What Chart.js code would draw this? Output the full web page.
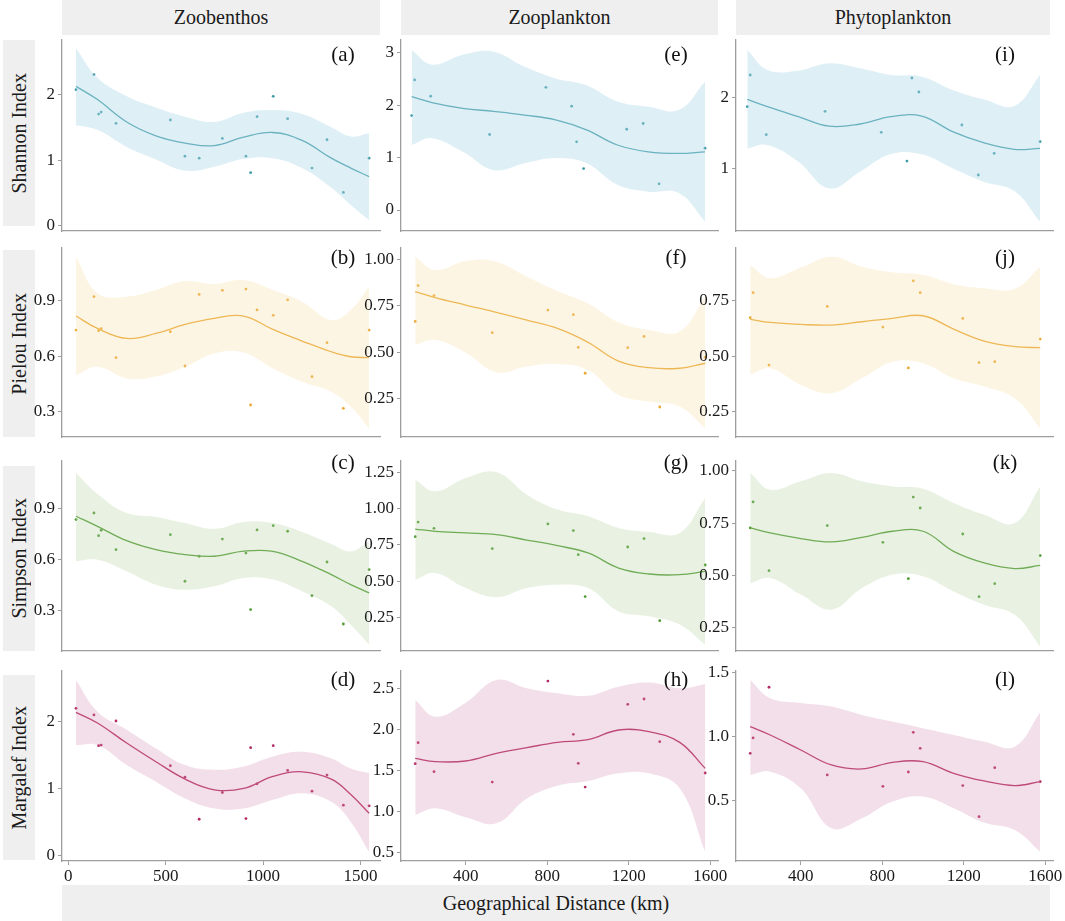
<!DOCTYPE html>
<html>
<head>
<meta charset="utf-8">
<title>Diversity indices vs geographical distance</title>
<script src="https://cdn.jsdelivr.net/npm/chart.js@4.4.1/dist/chart.umd.min.js"></script>
<style>
  body { margin: 0; background: #fff; }
  #fig { position: relative; width: 1065px; height: 921px; overflow: hidden;
         font-family: "Liberation Serif", "Times New Roman", serif; }
  .strip { position: absolute; background: #efefef; color: #1a1a1a; font-size: 20px;
           display: flex; align-items: center; justify-content: center; }
  .strip.side span { writing-mode: vertical-rl; transform: rotate(180deg); }
  canvas { position: absolute; }
</style>
</head>
<body>
<div id="fig">
  <div class="strip" style="left:62px;top:0;width:318px;height:35px">Zoobenthos</div>
  <div class="strip" style="left:401px;top:0;width:317px;height:35px">Zooplankton</div>
  <div class="strip" style="left:736px;top:0;width:314px;height:35px">Phytoplankton</div>
  <div class="strip side" style="left:3px;top:40px;width:32px;height:186px"><span>Shannon Index</span></div>
  <div class="strip side" style="left:3px;top:250px;width:32px;height:187px"><span>Pielou Index</span></div>
  <div class="strip side" style="left:3px;top:466px;width:32px;height:185px"><span>Simpson Index</span></div>
  <div class="strip side" style="left:3px;top:675px;width:32px;height:185px"><span>Margalef Index</span></div>
  <div class="strip" style="left:62px;top:885px;width:988px;height:36px">Geographical Distance (km)</div>
</div>
<script>
// site distances (km)
const zbSites = [40, 132, 156, 169, 245, 524, 599, 672, 791, 912, 936, 969, 1052, 1126, 1251, 1328, 1412, 1544];
const plSites = [152, 166, 244, 530, 803, 928, 952, 986, 1195, 1275, 1352, 1575];
// distances where the smooth fit and its band were read
const zbFitX = [40, 150, 300, 450, 600, 750, 900, 1050, 1200, 1350, 1450, 1544];
const plFitX = [152, 250, 400, 550, 700, 850, 1000, 1150, 1300, 1450, 1575];
const zbXTicks = [0, 500, 1000, 1500];
const plXTicks = [400, 800, 1200, 1600];

// (a) Zoobenthos - Shannon
const aPts = [2.07, 2.30, 1.70, 1.73, 1.56, 1.61, 1.06, 1.03, 1.33, 1.06, 0.81, 1.66, 1.97, 1.63, 0.88, 1.31, 0.51, 1.03];
const aFit = [2.12, 1.92, 1.58, 1.37, 1.26, 1.22, 1.35, 1.42, 1.30, 1.03, 0.88, 0.75];
const aHi  = [2.70, 2.25, 1.97, 1.80, 1.66, 1.58, 1.72, 1.76, 1.70, 1.50, 1.36, 1.41];
const aLo  = [1.53, 1.46, 1.20, 1.01, 0.84, 0.90, 1.02, 1.03, 0.88, 0.58, 0.32, 0.09];
const aTicks = [0, 1, 2];
// (b) Zoobenthos - Pielou
const bPts = [0.741, 0.922, 0.738, 0.749, 0.592, 0.732, 0.547, 0.934, 0.956, 0.963, 0.336, 0.850, 0.821, 0.905, 0.489, 0.673, 0.318, 0.741];
const bFit = [0.817, 0.75, 0.696, 0.723, 0.772, 0.805, 0.817, 0.745, 0.682, 0.624, 0.597, 0.592];
const bHi  = [1.138, 0.94, 0.922, 0.958, 1.006, 0.99, 1.012, 0.958, 0.895, 0.795, 0.85, 0.976];
const bLo  = [0.498, 0.543, 0.48, 0.49, 0.543, 0.615, 0.62, 0.534, 0.462, 0.408, 0.327, 0.21];
const bTicks = [0.3, 0.6, 0.9];
// (c) Zoobenthos - Simpson
const cPts = [0.837, 0.876, 0.742, 0.774, 0.659, 0.748, 0.472, 0.620, 0.722, 0.639, 0.304, 0.776, 0.801, 0.768, 0.387, 0.586, 0.219, 0.541];
const cFit = [0.857, 0.797, 0.712, 0.659, 0.630, 0.620, 0.650, 0.649, 0.590, 0.511, 0.452, 0.403];
const cHi  = [1.113, 0.989, 0.876, 0.853, 0.817, 0.782, 0.823, 0.817, 0.764, 0.693, 0.649, 0.709];
const cLo  = [0.590, 0.600, 0.531, 0.452, 0.422, 0.442, 0.491, 0.482, 0.413, 0.324, 0.215, 0.097];
const cTicks = [0.3, 0.6, 0.9];
// (d) Zoobenthos - Margalef
const dPts = [2.20, 2.10, 1.64, 1.65, 2.01, 1.34, 1.17, 0.54, 0.94, 0.55, 1.61, 1.07, 1.64, 1.27, 0.96, 1.20, 0.75, 0.74];
const dFit = [2.14, 1.98, 1.68, 1.40, 1.14, 0.98, 1.00, 1.18, 1.25, 1.14, 0.91, 0.63];
const dHi  = [2.62, 2.15, 1.88, 1.60, 1.35, 1.28, 1.33, 1.48, 1.55, 1.45, 1.30, 1.23];
const dLo  = [1.65, 1.65, 1.35, 1.10, 0.85, 0.70, 0.70, 0.83, 0.93, 0.80, 0.50, 0.05];
const dTicks = [0, 1, 2];
// (e) Zooplankton - Shannon
const ePts = [1.80, 2.48, 2.17, 1.44, 2.34, 1.98, 1.30, 0.79, 1.54, 1.65, 0.50, 1.18];
const eFit = [2.16, 2.05, 1.94, 1.88, 1.81, 1.72, 1.53, 1.24, 1.11, 1.08, 1.11];
const eHi  = [3.05, 2.77, 2.96, 3.02, 2.73, 2.51, 2.38, 2.07, 1.97, 1.91, 2.45];
const eLo  = [1.24, 1.37, 1.11, 0.76, 0.89, 0.99, 0.89, 0.48, 0.35, 0.32, -0.22];
const eTicks = [0, 1, 2, 3];
// (f) Zooplankton - Pielou
const fPts = [0.667, 0.860, 0.806, 0.606, 0.728, 0.703, 0.527, 0.387, 0.525, 0.586, 0.205, 0.473];
const fFit = [0.827, 0.795, 0.755, 0.716, 0.674, 0.629, 0.554, 0.453, 0.417, 0.414, 0.441];
const fHi  = [1.016, 0.944, 0.993, 0.989, 0.908, 0.831, 0.764, 0.662, 0.62, 0.612, 0.80];
const fLo  = [0.54, 0.567, 0.498, 0.392, 0.423, 0.437, 0.405, 0.27, 0.234, 0.207, 0.09];
const fTicks = [0.25, 0.5, 0.75, 1];
// (g) Zooplankton - Simpson
const gPts = [0.806, 0.907, 0.864, 0.724, 0.894, 0.848, 0.682, 0.393, 0.735, 0.793, 0.227, 0.611];
const gFit = [0.859, 0.843, 0.832, 0.820, 0.783, 0.744, 0.694, 0.590, 0.549, 0.544, 0.567];
const gHi  = [1.199, 1.119, 1.211, 1.252, 1.096, 0.993, 0.947, 0.866, 0.839, 0.832, 1.073];
const gLo  = [0.51, 0.556, 0.452, 0.388, 0.452, 0.475, 0.452, 0.291, 0.257, 0.2, 0.061];
const gTicks = [0.25, 0.5, 0.75, 1, 1.25];
// (h) Zooplankton - Margalef
const hPts = [1.583, 1.839, 1.486, 1.360, 2.589, 1.940, 1.587, 1.299, 2.305, 2.370, 1.851, 1.470];
const hFit = [1.648, 1.608, 1.616, 1.709, 1.778, 1.843, 1.875, 1.993, 1.973, 1.843, 1.526];
const hHi  = [2.358, 2.155, 2.326, 2.60, 2.50, 2.44, 2.41, 2.52, 2.57, 2.50, 2.55];
const hLo  = [0.958, 1.04, 0.93, 0.857, 1.16, 1.315, 1.372, 1.466, 1.466, 1.283, 0.512];
const hTicks = [0.5, 1, 1.5, 2, 2.5];
// (i) Phytoplankton - Shannon
const iPts = [1.869, 2.313, 1.477, 1.804, 1.509, 1.107, 2.271, 2.075, 1.612, 0.911, 1.215, 1.379];
const iFit = [1.972, 1.869, 1.729, 1.595, 1.626, 1.729, 1.738, 1.519, 1.364, 1.271, 1.285];
const iHi  = [2.664, 2.383, 2.374, 2.477, 2.407, 2.313, 2.29, 2.103, 1.972, 1.879, 2.313];
const iLo  = [1.285, 1.332, 1.098, 0.724, 0.958, 1.206, 1.201, 1.005, 0.818, 0.687, 0.257];
const iTicks = [1, 2];
// (j) Phytoplankton - Pielou
const jPts = [0.673, 0.786, 0.460, 0.724, 0.631, 0.447, 0.839, 0.786, 0.670, 0.471, 0.475, 0.577];
const jFit = [0.666, 0.652, 0.643, 0.64, 0.655, 0.670, 0.682, 0.622, 0.568, 0.543, 0.538];
const jHi  = [0.911, 0.851, 0.899, 0.948, 0.903, 0.878, 0.866, 0.824, 0.806, 0.803, 0.903];
const jLo  = [0.415, 0.445, 0.37, 0.333, 0.4, 0.475, 0.468, 0.4, 0.363, 0.31, 0.175];
const jTicks = [0.25, 0.5, 0.75];
// (k) Phytoplankton - Simpson
const kPts = [0.727, 0.851, 0.523, 0.738, 0.658, 0.485, 0.874, 0.822, 0.698, 0.399, 0.461, 0.595];
const kFit = [0.727, 0.703, 0.676, 0.660, 0.682, 0.711, 0.711, 0.615, 0.560, 0.533, 0.548];
const kHi  = [0.989, 0.909, 0.949, 0.989, 0.949, 0.925, 0.914, 0.846, 0.79, 0.75, 0.925];
const kLo  = [0.464, 0.488, 0.409, 0.337, 0.44, 0.504, 0.496, 0.424, 0.361, 0.313, 0.162];
const kTicks = [0.25, 0.5, 0.75, 1];
// (l) Phytoplankton - Margalef
const lPts = [0.867, 0.987, 1.383, 0.698, 0.609, 0.721, 1.031, 0.906, 0.615, 0.372, 0.755, 0.646];
const lFit = [1.076, 1.010, 0.893, 0.776, 0.745, 0.797, 0.802, 0.711, 0.651, 0.615, 0.646];
const lHi  = [1.44, 1.297, 1.26, 1.232, 1.167, 1.115, 1.063, 1.01, 0.958, 0.919, 1.188];
const lLo  = [0.698, 0.724, 0.594, 0.281, 0.359, 0.49, 0.529, 0.438, 0.326, 0.268, 0.099];
const lTicks = [0.5, 1, 1.5];

// colours per index (row)
const palette = [
  { line: '#3f9aa6', band: 'rgba(173, 216, 230, 0.40)' },  // Shannon
  { line: '#e9a733', band: 'rgba(250, 222, 165, 0.30)' },  // Pielou
  { line: '#4f9a32', band: 'rgba(185, 212, 165, 0.32)' },  // Simpson
  { line: '#b42a62', band: 'rgba(215, 150, 182, 0.30)' }   // Margalef
];

// plot areas in page pixels
const cols = [
  { left: 62,  right: 380,  xMin: -32, xMax: 1600, sites: zbSites, fitX: zbFitX, xTicks: zbXTicks, tagDx: 37 },
  { left: 401, right: 718,  xMin: 82,  xMax: 1638, sites: plSites, fitX: plFitX, xTicks: plXTicks, tagDx: 42 },
  { left: 736, right: 1053, xMin: 82,  xMax: 1638, sites: plSites, fitX: plFitX, xTicks: plXTicks, tagDx: 48 }
];
const rows = [
  { top: 40,  bottom: 231, tagDy: 15 },
  { top: 248, bottom: 437, tagDy: 10 },
  { top: 461, bottom: 651, tagDy: 2 },
  { top: 671, bottom: 861, tagDy: 9 }
];

const panels = [
  { tag: '(a)', col: 0, row: 0, pts: aPts, fit: aFit, hi: aHi, lo: aLo, ticks: aTicks, dec: 0, yMin: -0.076, yMax: 2.825 },
  { tag: '(b)', col: 0, row: 1, pts: bPts, fit: bFit, hi: bHi, lo: bLo, ticks: bTicks, dec: 1, yMin: 0.163, yMax: 1.185 },
  { tag: '(c)', col: 0, row: 2, pts: cPts, fit: cFit, hi: cHi, lo: cLo, ticks: cTicks, dec: 1, yMin: 0.059, yMax: 1.184 },
  { tag: '(d)', col: 0, row: 3, pts: dPts, fit: dFit, hi: dHi, lo: dLo, ticks: dTicks, dec: 0, yMin: -0.085, yMax: 2.758 },
  { tag: '(e)', col: 1, row: 0, pts: ePts, fit: eFit, hi: eHi, lo: eLo, ticks: eTicks, dec: 0, yMin: -0.40, yMax: 3.242, xMin: 100 },
  { tag: '(f)', col: 1, row: 1, pts: fPts, fit: fFit, hi: fHi, lo: fLo, ticks: fTicks, dec: 2, yMin: 0.043, yMax: 1.063 },
  { tag: '(g)', col: 1, row: 2, pts: gPts, fit: gFit, hi: gHi, lo: gLo, ticks: gTicks, dec: 2, yMin: 0.018, yMax: 1.328 },
  { tag: '(h)', col: 1, row: 3, pts: hPts, fit: hFit, hi: hHi, lo: hLo, ticks: hTicks, dec: 1, yMin: 0.399, yMax: 2.711 },
  { tag: '(i)', col: 2, row: 0, pts: iPts, fit: iFit, hi: iHi, lo: iLo, ticks: iTicks, dec: 0, yMin: 0.126, yMax: 2.804, xMin: 97 },
  { tag: '(j)', col: 2, row: 1, pts: jPts, fit: jFit, hi: jHi, lo: jLo, ticks: jTicks, dec: 2, yMin: 0.136, yMax: 0.987 },
  { tag: '(k)', col: 2, row: 2, pts: kPts, fit: kFit, hi: kHi, lo: kLo, ticks: kTicks, dec: 2, yMin: 0.14, yMax: 1.046 },
  { tag: '(l)', col: 2, row: 3, pts: lPts, fit: lFit, hi: lHi, lo: lLo, ticks: lTicks, dec: 1, yMin: 0.026, yMax: 1.51 }
];

const FONT = '"Liberation Serif", "Times New Roman", serif';
const AXIS = '#9e9e9e';
const Y_AXIS_W = 40, PAD_T = 14, PAD_B = 14, PAD_R = 24;

const xy = (xs, ys) => xs.map((x, i) => ({ x: x, y: ys[i] }));

// panel letter in the top right corner
const panelTag = {
  id: 'panelTag',
  afterDraw(chart, args, opts) {
    const { ctx, chartArea } = chart;
    ctx.save();
    ctx.font = '21px ' + FONT;
    ctx.fillStyle = '#111';
    ctx.textAlign = 'center';
    ctx.textBaseline = 'middle';
    ctx.fillText(opts.text, chartArea.right - opts.dx, chartArea.top + opts.dy);
    ctx.restore();
  }
};

const fig = document.getElementById('fig');

panels.forEach(p => {
  const col = cols[p.col], row = rows[p.row];
  const bottomRow = p.row === 3;
  const xAxisH = bottomRow ? 26 : 2;
  const areaW = col.right - col.left, areaH = row.bottom - row.top;

  const cv = document.createElement('canvas');
  cv.width = areaW + Y_AXIS_W + PAD_R;
  cv.height = areaH + PAD_T + xAxisH + PAD_B;
  cv.style.left = (col.left - Y_AXIS_W) + 'px';
  cv.style.top = (row.top - PAD_T) + 'px';
  fig.appendChild(cv);

  const c = palette[p.row];

  new Chart(cv, {
    type: 'line',
    data: {
      datasets: [
        { data: xy(col.fitX, p.hi), borderWidth: 0, pointRadius: 0, fill: '+1', backgroundColor: c.band, tension: 0.4 },
        { data: xy(col.fitX, p.lo), borderWidth: 0, pointRadius: 0, fill: false, tension: 0.4 },
        { data: xy(col.fitX, p.fit), borderColor: c.line, borderWidth: 1.3, pointRadius: 0, fill: false, tension: 0.4 },
        { data: xy(col.sites, p.pts), showLine: false, pointRadius: 1.4, pointBorderWidth: 0,
          pointBackgroundColor: c.line }
      ]
    },
    options: {
      responsive: false,
      animation: false,
      events: [],
      layout: { padding: { top: PAD_T, bottom: PAD_B, left: 0, right: PAD_R } },
      plugins: {
        legend: { display: false },
        tooltip: { enabled: false },
        panelTag: { text: p.tag, dx: col.tagDx, dy: row.tagDy }
      },
      scales: {
        x: {
          type: 'linear',
          min: p.xMin !== undefined ? p.xMin : col.xMin,
          max: col.xMax,
          afterBuildTicks: s => { s.ticks = col.xTicks.map(v => ({ value: v })); },
          afterFit: s => { s.height = xAxisH; },
          grid: { drawOnChartArea: false, drawTicks: bottomRow, tickLength: 4, color: AXIS },
          border: { color: AXIS, width: 1.3 },
          ticks: { display: bottomRow, font: { family: FONT, size: 17 }, color: '#1a1a1a', padding: 1, maxRotation: 0,
                   callback: v => String(v) }
        },
        y: {
          min: p.yMin,
          max: p.yMax,
          afterBuildTicks: s => { s.ticks = p.ticks.map(v => ({ value: v })); },
          afterFit: s => { s.width = Y_AXIS_W; },
          grid: { drawOnChartArea: false, drawTicks: true, tickLength: 4, color: AXIS },
          border: { color: AXIS, width: 1.3 },
          ticks: { font: { family: FONT, size: 17 }, color: '#1a1a1a', padding: 3,
                   callback: v => Number(v).toFixed(p.dec) }
        }
      }
    },
    plugins: [panelTag]
  });
});
</script>
</body>
</html>
